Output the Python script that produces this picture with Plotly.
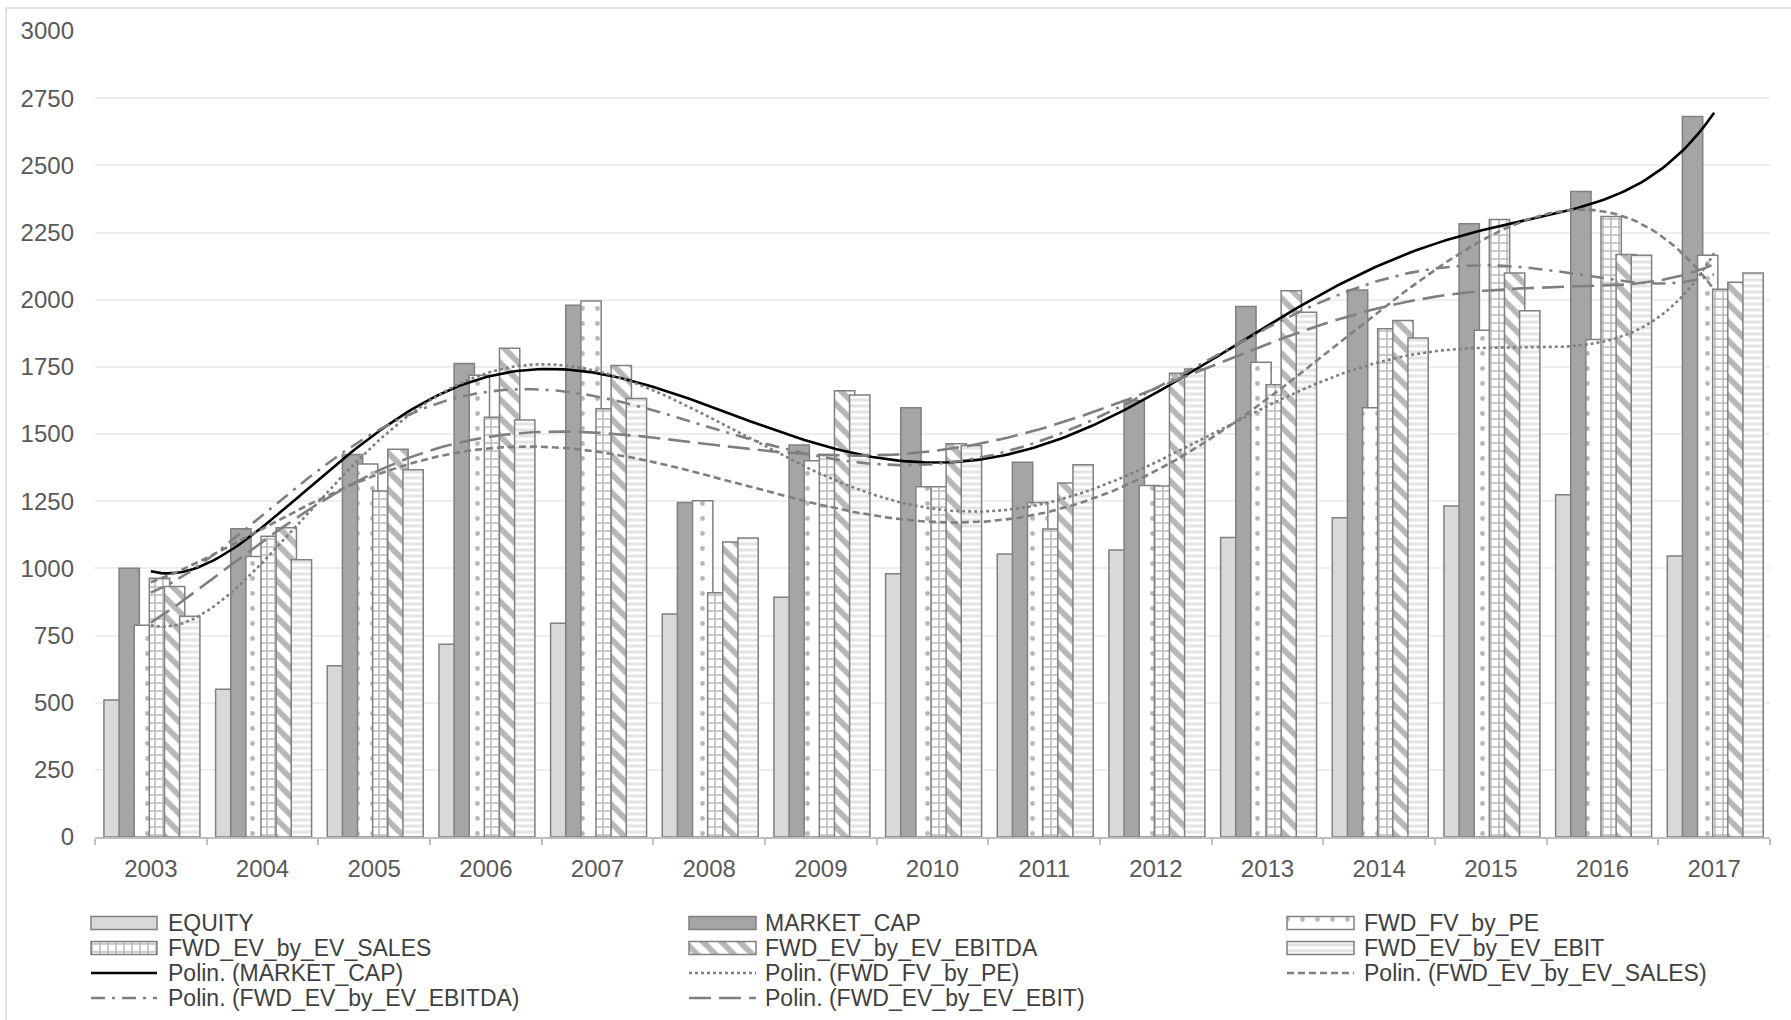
import numpy as np
import plotly.graph_objects as go

# ---- data ----
years = [2003, 2004, 2005, 2006, 2007, 2008, 2009, 2010, 2011, 2012, 2013, 2014, 2015, 2016, 2017]
equity = [510, 550, 637, 717, 796, 830, 892, 980, 1053, 1068, 1115, 1188, 1232, 1274, 1046]
market_cap = [1000, 1147, 1424, 1762, 1979, 1245, 1459, 1598, 1395, 1625, 1975, 2036, 2283, 2403, 2682]
fwd_fv_by_pe = [788, 1044, 1388, 1719, 1995, 1252, 1400, 1304, 1245, 1308, 1767, 1598, 1886, 1852, 2165]
fwd_ev_sales = [963, 1119, 1288, 1562, 1594, 909, 1424, 1304, 1146, 1306, 1683, 1892, 2298, 2310, 2039]
fwd_ev_ebitda = [932, 1151, 1443, 1819, 1755, 1098, 1661, 1464, 1318, 1726, 2033, 1922, 2099, 2168, 2065]
fwd_ev_ebit = [822, 1032, 1367, 1552, 1632, 1113, 1645, 1457, 1386, 1742, 1953, 1857, 1959, 2165, 2099]

bar_names = ["EQUITY", "MARKET_CAP", "FWD_FV_by_PE", "FWD_EV_by_EV_SALES",
             "FWD_EV_by_EV_EBITDA", "FWD_EV_by_EV_EBIT"]
bar_values = [equity, market_cap, fwd_fv_by_pe, fwd_ev_sales, fwd_ev_ebitda, fwd_ev_ebit]

EDGE = "#808080"
bar_styles = [
    dict(color="#d9d9d9"),
    dict(color="#a5a5a5"),
    dict(color="white", pattern=dict(shape=".", fgcolor="#6f6f6f", bgcolor="white",
                                     size=15, solidity=0.08, fillmode="overlay")),
    dict(color="white", pattern=dict(shape="+", fgcolor="#747474", bgcolor="white",
                                     size=8, solidity=0.35, fillmode="overlay")),
    dict(color="white", pattern=dict(shape="\\", fgcolor="#6f6f6f", bgcolor="white",
                                     size=13, solidity=0.45, fillmode="overlay")),
    dict(color="white", pattern=dict(shape="-", fgcolor="#c8c8c8", bgcolor="white",
                                     size=6, solidity=0.5, fillmode="overlay")),
]

# bars overlap each other inside a year group
bar_w = 0.182
step = 0.1355
start = -0.42

fig = go.Figure()
for i, (name, vals, st) in enumerate(zip(bar_names, bar_values, bar_styles)):
    fig.add_trace(go.Bar(
        x=years, y=vals, name=name, showlegend=False,
        width=bar_w, offset=start + i * step,
        marker=dict(line=dict(color=EDGE, width=1.5), **st),
    ))

# polynomial (order 6) trendlines over the series
def poly_trend(vals, order=6):
    xi = np.arange(1, len(vals) + 1)
    p = np.polynomial.Polynomial.fit(xi, vals, order)
    xs = np.linspace(1, len(vals), 300)
    return xs + years[0] - 1, p(xs)

trend_specs = [
    ("Polin. (MARKET_CAP)", market_cap, dict(color="black", width=2.6, dash="solid")),
    ("Polin. (FWD_FV_by_PE)", fwd_fv_by_pe, dict(color="#7f7f7f", width=2.6, dash="dot")),
    ("Polin. (FWD_EV_by_EV_SALES)", fwd_ev_sales, dict(color="#7f7f7f", width=2.6, dash="7px,4px")),
    ("Polin. (FWD_EV_by_EV_EBITDA)", fwd_ev_ebitda, dict(color="#7f7f7f", width=2.6, dash="14px,7px,3px,7px")),
    ("Polin. (FWD_EV_by_EV_EBIT)", fwd_ev_ebit, dict(color="#7f7f7f", width=2.6, dash="22px,8px")),
]
for name, vals, ln in trend_specs:
    tx, ty = poly_trend(vals)
    fig.add_trace(go.Scatter(x=tx, y=ty, mode="lines", name=name, line=ln, showlegend=False))

# ---- legend, drawn on a helper axis pair measured in pixels ----
col_x = [(91, 157), (689, 756), (1287, 1354)]
text_x = [166, 763, 1362]
row_y = [923, 948, 973, 998]
legend_entries = [(n, "bar", st) for n, st in zip(bar_names, bar_styles)] + \
                 [(n, "line", ln) for n, _, ln in trend_specs]
annotations = []
for k, (name, kind, style) in enumerate(legend_entries):
    r, c = divmod(k, 3)
    x0, x1 = col_x[c]
    yc = row_y[r]
    if kind == "bar":
        fig.add_trace(go.Bar(
            x=[(x0 + x1) / 2], y=[13], base=[yc - 6.5], width=[x1 - x0],
            xaxis="x2", yaxis="y2", showlegend=False, hoverinfo="skip",
            marker=dict(line=dict(color=EDGE, width=1.5), **style),
        ))
    else:
        fig.add_trace(go.Scatter(
            x=[x0, x1], y=[yc, yc], mode="lines", line=style,
            xaxis="x2", yaxis="y2", showlegend=False, hoverinfo="skip",
        ))
    annotations.append(dict(
        text=name, x=text_x[c], y=yc, xref="x2", yref="y2",
        xanchor="left", yanchor="middle", showarrow=False,
        font=dict(family="Liberation Sans, Arial, sans-serif", size=23, color="#404040"),
    ))

W, H = 1791, 1020
ML, MR, MT, MB = 80, 21, 31, 0
plot_w = W - ML - MR
plot_h = H - MT - MB
axis_left_px = 95
axis_bottom_px = 837

fig.update_layout(
    width=W, height=H,
    margin=dict(l=ML, r=MR, t=MT, b=MB, autoexpand=False),
    paper_bgcolor="white", plot_bgcolor="white",
    barmode="overlay",
    font=dict(family="Liberation Sans, Arial, sans-serif", color="#595959"),
    showlegend=False,
    xaxis=dict(
        domain=[(axis_left_px - ML) / plot_w, 1],
        range=[2002.5, 2017.5], tickmode="array", tickvals=years,
        ticktext=[str(y) for y in years], ticks="",
        tickfont=dict(size=24, color="#595959"), ticklabelstandoff=9,
        showgrid=False, zeroline=False, showline=True, linecolor="#bfbfbf", linewidth=1.5,
        minor=dict(tickmode="array", tickvals=[y - 0.5 for y in years] + [2017.5],
                   ticks="outside", ticklen=6, tickwidth=1.5, tickcolor="#bfbfbf", showgrid=False),
    ),
    yaxis=dict(
        domain=[(H - axis_bottom_px) / plot_h, 1],
        range=[0, 3000], tickmode="linear", tick0=0, dtick=250,
        tickfont=dict(size=24, color="#595959"), ticklabelstandoff=20,
        showgrid=True, gridcolor="#eeeeee", gridwidth=1.5, zeroline=False, showline=False,
    ),
    xaxis2=dict(domain=[0, 1], range=[ML, W - MR], visible=False, anchor="y2", fixedrange=True),
    yaxis2=dict(domain=[0, 0.17], range=[H, H - 0.17 * plot_h], visible=False,
                anchor="x2", fixedrange=True),
    annotations=annotations,
    shapes=[dict(type="rect", xref="paper", yref="paper",
                 x0=(6 - ML) / plot_w, x1=1.05, y0=-0.05, y1=1 + (MT - 8) / plot_h,
                 line=dict(color="#d9d9d9", width=1.5), fillcolor="rgba(0,0,0,0)", layer="below")],
)

fig.write_html("out.html")
